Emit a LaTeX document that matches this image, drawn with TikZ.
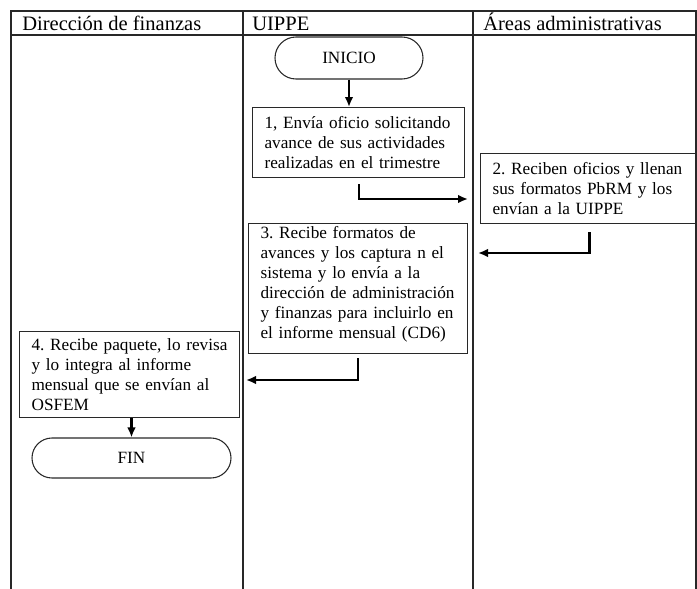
\documentclass[tikz,border=0pt]{standalone}
\usepackage{fontspec}
\setmainfont{Liberation Serif}
\usepackage{xcolor}
\usetikzlibrary{arrows.meta,shapes.misc}
\definecolor{lineagris}{RGB}{40,40,40}
\newcommand{\textocaja}{\fontsize{12.9}{15}\selectfont\frenchspacing\hyphenpenalty10000\relax}

\tikzset{
  caja/.style={draw=lineagris, line width=0.9pt, align=left, anchor=north west,
    inner xsep=9pt, inner ysep=2pt, font=\textocaja},
  terminal/.style={rounded rectangle, draw=lineagris, line width=0.8pt,
    inner sep=0pt, font=\fontsize{12.9}{15}\selectfont},
  flecha/.style={line width=1.6pt, -{Latex[length=7.5pt,width=6.5pt]}},
  carril/.style={draw=lineagris, line width=1pt},
  encabezado/.style={anchor=base west, inner sep=0pt, font=\fontsize{15.4}{18}\selectfont}
}

\begin{document}
\begin{tikzpicture}[x=0.75pt, y=-0.75pt]
\useasboundingbox (0,0) rectangle (697,589);

% carriles
\draw[carril] (11,589) -- (11,11) -- (696,11) -- (696,589);
\draw[carril] (11,35) -- (696,35);
\draw[carril] (243,11) -- (243,589);
\draw[carril] (473,11) -- (473,589);

\node[encabezado] (finanzas) at (22,31) {Dirección de finanzas};
\node[encabezado] (uippe) at (252,31) {UIPPE};
\node[encabezado] (areas) at (483,31) {Áreas administrativas};

% pasos
\node[terminal, minimum width=111pt, minimum height=31.5pt] (inicio) at (349,58) {INICIO};
\node[caja, text width=141pt, minimum height=52.5pt] (paso1) at (252,107)
  {1, Envía oficio solicitando\\avance de sus actividades\\realizadas en el trimestre};
\node[caja, text width=143.25pt, minimum height=52.5pt] (paso2) at (480,153)
  {2. Reciben oficios y llenan\\sus formatos PbRM y los\\envían a la UIPPE};
\node[caja, text width=146.25pt, text height=9pt, text depth=84.5pt] (paso3) at (248,223)
  {3. Recibe formatos de\\avances y los captura n el\\sistema y lo envía a la\\dirección de administración\\y finanzas para incluirlo en\\el informe mensual (CD6)};
\node[caja, text width=147pt, minimum height=64.5pt] (paso4) at (19,331)
  {4. Recibe paquete, lo revisa\\y lo integra al informe\\mensual que se envían al\\OSFEM};
\node[terminal, minimum width=149.25pt, minimum height=30pt] (fin) at (131.5,458) {FIN};

\coordinate (c2) at (468,199);
\coordinate (c3) at (478,253);
\coordinate (c4) at (246,380);

% flechas
\draw[flecha] (inicio.south) -- (inicio.south |- paso1.north);
\draw[flecha] ([yshift=-4.5pt]paso1.south) |- (c2);
\draw[flecha] ([xshift=1pt,yshift=-6pt]paso2.south) |- (c3);
\draw[flecha] ([yshift=-3pt]paso3.south) |- (c4);
\draw[flecha] (fin.north |- paso4.south) -- (fin.north);
\end{tikzpicture}
\end{document}
